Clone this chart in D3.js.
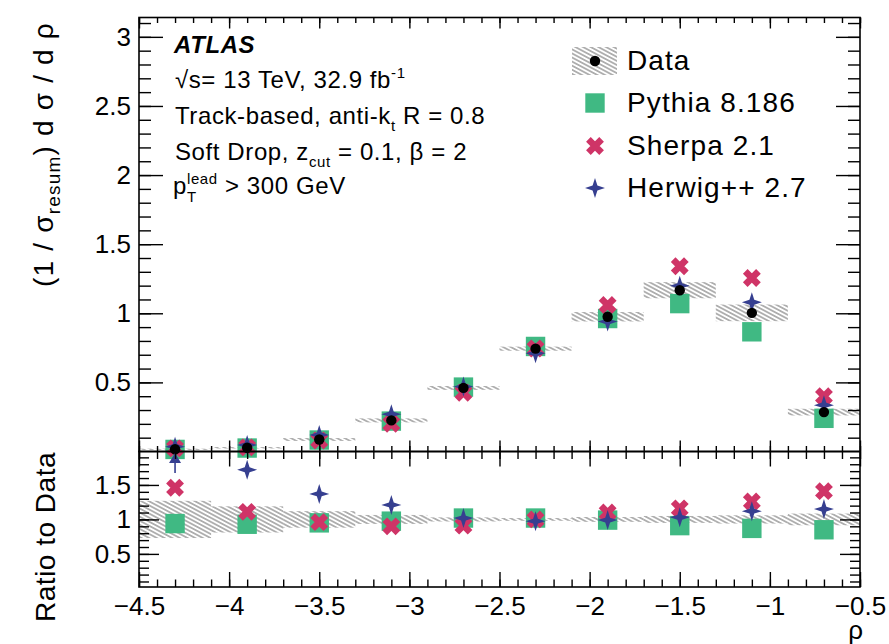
<!DOCTYPE html>
<html><head><meta charset="utf-8">
<script src="https://cdn.jsdelivr.net/npm/d3@7"></script>
<style>
html,body{margin:0;padding:0;background:#fff;}
svg text{font-family:"Liberation Sans",Arial,Helvetica,sans-serif;fill:#000;}
</style></head>
<body><svg id="c" width="889" height="644"></svg>
<script>
// ---------- data ----------
const binEdges   = [-4.5,-4.1,-3.7,-3.3,-2.9,-2.5,-2.1,-1.7,-1.3,-0.9,-0.5];
const binCenters = [-4.3,-3.9,-3.5,-3.1,-2.7,-2.3,-1.9,-1.5,-1.1,-0.7];
const dataVals   = [0.016,0.027,0.087,0.225,0.46,0.744,0.975,1.167,1.003,0.285];
const dataRelErr = [0.27,0.19,0.12,0.065,0.03,0.02,0.035,0.05,0.06,0.085];
const pythiaVals = [0.015,0.025,0.083,0.22,0.466,0.76,0.962,1.07,0.866,0.24];
const sherpaVals = [0.023,0.03,0.08,0.2,0.425,0.745,1.06,1.34,1.255,0.4];
const herwigVals = [0.035,0.047,0.12,0.27,0.47,0.71,0.94,1.2,1.08,0.335];
const pythiaRatio = [0.94,0.93,0.95,0.975,1.02,1.02,0.99,0.91,0.87,0.85];
const sherpaRatio = [1.46,1.11,0.96,0.9,0.91,1.0,1.1,1.16,1.26,1.41];
const herwigRatio = [2.2,1.72,1.37,1.21,1.02,0.975,0.99,1.03,1.12,1.15];
const mainYTicks  = [0.5,1,1.5,2,2.5,3];
const ratioYTicks = [0.5,1,1.5];
const xTicks      = [-4.5,-4,-3.5,-3,-2.5,-2,-1.5,-1,-0.5];
const legendLabels = ["Data","Pythia 8.186","Sherpa 2.1","Herwig++ 2.7"];

// ---------- layout ----------
const L=139, R=860, mainTop=17.5, mainBot=451.5, ratioBot=587;
const colPythia="#40b983", colSherpa="#cf3467", colHerwig="#363f90", colHatch="#7a7a7a";

const svg=d3.select("#c");
const defs=svg.append("defs");
const pat=defs.append("pattern").attr("id","hatch").attr("patternUnits","userSpaceOnUse")
  .attr("width",10).attr("height",3.6).attr("patternTransform","rotate(28)");
pat.append("line").attr("x1",0).attr("x2",10).attr("y1",1.8).attr("y2",1.8)
  .attr("stroke",colHatch).attr("stroke-width",1.1);

const x=d3.scaleLinear().domain([-4.5,-0.5]).range([L,R]);
const yM=d3.scaleLinear().domain([0,3.14]).range([mainBot,mainTop]);
const yR=d3.scaleLinear().domain([0.02,1.985]).range([ratioBot,mainBot]);

// marker painters
function square(g,cx,cy){g.append("rect").attr("x",cx-9.7).attr("y",cy-9.7).attr("width",19.4).attr("height",19.4).attr("fill",colPythia);}
function xmark(g,cx,cy){g.append("path").attr("d",`M${cx-6.6},${cy-6.6}L${cx+6.6},${cy+6.6}M${cx+6.6},${cy-6.6}L${cx-6.6},${cy+6.6}`)
  .attr("stroke",colSherpa).attr("stroke-width",6.6).attr("fill","none");}
function star(g,cx,cy){const r=10,q=2.4;
  g.append("path").attr("d",`M${cx},${cy-r}L${cx+q},${cy-q}L${cx+r},${cy}L${cx+q},${cy+q}L${cx},${cy+r}L${cx-q},${cy+q}L${cx-r},${cy}L${cx-q},${cy-q}Z`).attr("fill",colHerwig);}
function dot(g,cx,cy){g.append("circle").attr("cx",cx).attr("cy",cy).attr("r",5.2).attr("fill","#000");}

// ---------- main panel ----------
const gm=svg.append("g");
binCenters.forEach((c,i)=>{
  const v=dataVals[i], e=v*dataRelErr[i];
  gm.append("rect").attr("x",x(binEdges[i])).attr("width",x(binEdges[i+1])-x(binEdges[i]))
    .attr("y",yM(v+e)).attr("height",Math.max(yM(v-e)-yM(v+e),0.8)).attr("fill","url(#hatch)");
});
binCenters.forEach((c,i)=>square(gm,x(c),yM(pythiaVals[i])));
binCenters.forEach((c,i)=>xmark(gm,x(c),yM(sherpaVals[i])));
binCenters.forEach((c,i)=>star(gm,x(c),yM(herwigVals[i])));
binCenters.forEach((c,i)=>dot(gm,x(c),yM(dataVals[i])));

// ---------- ratio panel ----------
const gr=svg.append("g");
binCenters.forEach((c,i)=>{
  const e=dataRelErr[i];
  gr.append("rect").attr("x",x(binEdges[i])).attr("width",x(binEdges[i+1])-x(binEdges[i]))
    .attr("y",yR(1+e)).attr("height",yR(1-e)-yR(1+e)).attr("fill","url(#hatch)");
});
binCenters.forEach((c,i)=>square(gr,x(c),yR(pythiaRatio[i])));
binCenters.forEach((c,i)=>xmark(gr,x(c),yR(sherpaRatio[i])));
binCenters.forEach((c,i)=>{
  const r=herwigRatio[i];
  if(r>yR.domain()[1]){
    const cx=x(c), top=yR(yR.domain()[1])+1.5;
    gr.append("line").attr("x1",cx).attr("x2",cx).attr("y1",top+9).attr("y2",top+20).attr("stroke",colHerwig).attr("stroke-width",1.6);
    gr.append("path").attr("d",`M${cx},${top}L${cx+6},${top+10}L${cx-6},${top+10}Z`).attr("fill",colHerwig);
  } else star(gr,x(c),yR(r));
});

// ---------- axes ----------
function minorTicks(a,b,step){const t=[];for(let v=a;v<=b+1e-9;v+=step)t.push(+v.toFixed(4));return t;}
function axisG(axis,tx,ty){const g=svg.append("g").attr("transform",`translate(${tx},${ty})`).call(axis);g.select(".domain").remove();
  g.selectAll(".tick line").attr("stroke","#000").attr("stroke-width",1.4);return g;}
const fmt=d3.format("~g");
// main panel
const mMinor=minorTicks(0.1,3.1,0.1);
axisG(d3.axisLeft(yM).tickValues(mMinor).tickSize(-12).tickFormat(""),L,0);
axisG(d3.axisRight(yM).tickValues(mMinor).tickSize(-12).tickFormat(""),R,0);
const ml=axisG(d3.axisLeft(yM).tickValues(mainYTicks).tickSize(-24).tickPadding(8).tickFormat(fmt),L,0);
axisG(d3.axisRight(yM).tickValues(mainYTicks).tickSize(-24).tickFormat(""),R,0);
const xMinor=minorTicks(-4.5,-0.5,0.1);
axisG(d3.axisBottom(x).tickValues(xMinor).tickSize(-5.5).tickFormat(""),0,mainBot);
axisG(d3.axisBottom(x).tickValues(xTicks).tickSize(-11).tickFormat(""),0,mainBot);
axisG(d3.axisTop(x).tickValues(xMinor).tickSize(-5.5).tickFormat(""),0,mainTop);
axisG(d3.axisTop(x).tickValues(xTicks).tickSize(-11).tickFormat(""),0,mainTop);
// ratio panel
const rMinor=minorTicks(0.1,1.9,0.1);
axisG(d3.axisLeft(yR).tickValues(rMinor).tickSize(-10).tickFormat(""),L,0);
axisG(d3.axisRight(yR).tickValues(rMinor).tickSize(-10).tickFormat(""),R,0);
const rl=axisG(d3.axisLeft(yR).tickValues(ratioYTicks).tickSize(-20).tickPadding(8).tickFormat(fmt),L,0);
axisG(d3.axisRight(yR).tickValues(ratioYTicks).tickSize(-20).tickFormat(""),R,0);
axisG(d3.axisTop(x).tickValues(xMinor).tickSize(-7.5).tickFormat(""),0,mainBot);
axisG(d3.axisTop(x).tickValues(xTicks).tickSize(-15).tickFormat(""),0,mainBot);
axisG(d3.axisBottom(x).tickValues(xMinor).tickSize(-7.5).tickFormat(""),0,ratioBot);
const xb=axisG(d3.axisBottom(x).tickValues(xTicks).tickSize(-15).tickPadding(10).tickFormat(fmt),0,ratioBot);
[ml,rl,xb].forEach(g=>g.selectAll("text").attr("font-size",26).attr("font-family","Liberation Sans, Arial, sans-serif").attr("fill","#000"));
// frames
[[mainTop,mainBot],[mainBot,ratioBot]].forEach(([t,b])=>svg.append("rect").attr("x",L).attr("y",t).attr("width",R-L).attr("height",b-t)
  .attr("fill","none").attr("stroke","#000").attr("stroke-width",1.6));

// ---------- axis titles ----------
const yt=svg.append("text").attr("transform","translate(53,22) rotate(-90)").attr("text-anchor","end").attr("font-size",28).attr("letter-spacing",1.2);
yt.append("tspan").text("(1 / σ");
yt.append("tspan").text("resum").attr("font-size",19).attr("dy",7);
yt.append("tspan").text(") d σ / d ρ").attr("dy",-7);
svg.append("text").attr("transform","translate(55,452) rotate(-90)").attr("text-anchor","end").attr("font-size",28).attr("letter-spacing",0.5).text("Ratio to Data");
svg.append("text").attr("x",863).attr("y",639).attr("text-anchor","end").attr("font-size",26).text("ρ");

// ---------- ATLAS label block ----------
const tb=svg.append("g");
tb.append("text").attr("x",174).attr("y",53).attr("font-size",24).attr("font-weight","bold").attr("font-style","italic").attr("letter-spacing",0.6).text("ATLAS");
function rich(x0,y0,parts){ // parts: [text,size,dy,stackOnPrevious]
  let cx=x0, prevX=x0;
  parts.forEach(p=>{
    const [t,s,dy,stack]=p;
    const startX= stack? prevX : cx;
    const el=tb.append("text").attr("x",startX).attr("y",y0+dy).attr("font-size",s).attr("letter-spacing",0.6).attr("xml:space","preserve").text(t);
    const w=el.node().getComputedTextLength();
    if(stack){cx=Math.max(cx,startX+w);} else {prevX=cx; cx=cx+w;}
  });
}
rich(175,88,[["√s= 13 TeV, 32.9 fb",24,0],["-1",15,-10]]);
rich(175,124,[["Track-based, anti-k",24,0],["t",15,7],[" R = 0.8",24,0]]);
rich(175,160,[["Soft Drop, z",24,0],["cut",15,7],[" = 0.1, β = 2",24,0]]);
rich(173,194,[["p",24,0],["lead",15,-10],["T",15,8,true],[" > 300 GeV",24,0]]);

// ---------- legend ----------
const lg=svg.append("g");
const lx=595, ly=[61,103,146,188];
lg.append("rect").attr("x",572).attr("y",47).attr("width",45).attr("height",28).attr("fill","url(#hatch)");
dot(lg,lx,ly[0]); square(lg,lx,ly[1]); xmark(lg,lx,ly[2]); star(lg,lx,ly[3]);
legendLabels.forEach((t,i)=>lg.append("text").attr("x",627).attr("y",ly[i]+9).attr("font-size",28).attr("letter-spacing",1.1).text(t));
</script></body></html>
